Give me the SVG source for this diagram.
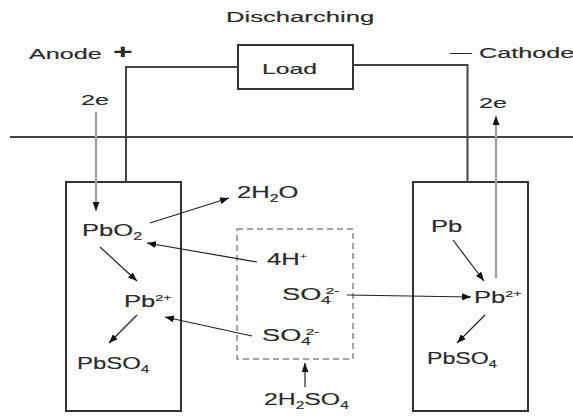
<svg xmlns="http://www.w3.org/2000/svg" width="573" height="416" viewBox="0 0 573 416">
<style>
text{font-family:"Liberation Sans",Arial,sans-serif;fill:#2a2a2a;stroke:#2a2a2a;stroke-width:0.15}
.h{font-size:15px}
.c{font-size:16px}
.s{font-size:10px}
.box{fill:none;stroke:#333;stroke-width:2}
.wire{fill:none;stroke:#444;stroke-width:2}
.e{fill:none;stroke:#a0a0a0;stroke-width:2.2}
.r{fill:none;stroke:#222;stroke-width:1.2}
.dash{fill:none;stroke:#888;stroke-width:1.5;stroke-dasharray:6 4}
</style>
<defs>
<marker id="ah" markerUnits="userSpaceOnUse" markerWidth="9" markerHeight="7" refX="9" refY="3.5" orient="auto">
<path d="M0,0 L9,3.5 L0,7 z" fill="#111"/>
</marker>
</defs>
<rect width="573" height="416" fill="#fff"/>

<g id="title"><text class="h" transform="matrix(1.71 0 0 1 226 22)">Discharching</text></g>
<g id="anode-label">
<text class="h" transform="matrix(1.68 0 0 1 29 59)">Anode</text>
<text transform="matrix(1.68 0 0 1 113 59)" font-size="20" font-weight="bold">+</text>
</g>
<g id="cathode-label">
<text class="h" transform="matrix(1.45 0 0 1 450 57)">—</text>
<text class="h" transform="matrix(1.68 0 0 1 479 58)">Cathode</text>
</g>

<g id="load"><rect class="box" x="238" y="45" width="115" height="44"/><text class="h" transform="matrix(1.65 0 0 1 262 74)">Load</text></g>

<g id="ground"><line x1="10" y1="137" x2="573" y2="137" stroke="#444" stroke-width="2"/></g>

<g id="left-cell"><rect class="box" x="66" y="182" width="115" height="229"/></g>
<g id="right-cell"><rect class="box" x="413" y="182" width="115" height="229"/></g>
<g id="electrolyte"><rect class="dash" x="237" y="229" width="116" height="130"/></g>

<g id="connectors">
<polyline class="wire" points="238,67 126,67 126,182"/>
<polyline class="wire" points="353,65 467.5,65 467.5,182"/>
<line class="e" x1="96" y1="112" x2="96" y2="211" marker-end="url(#ah)"/>
<line class="e" x1="496" y1="278" x2="496" y2="116" marker-end="url(#ah)"/>
<line class="r" x1="150" y1="223" x2="229" y2="198" marker-end="url(#ah)"/>
<line class="r" x1="257" y1="262" x2="147" y2="243" marker-end="url(#ah)"/>
<line class="r" x1="100" y1="247" x2="137" y2="281" marker-end="url(#ah)"/>
<line class="r" x1="137" y1="315" x2="109" y2="343" marker-end="url(#ah)"/>
<line class="r" x1="252" y1="336" x2="165" y2="317" marker-end="url(#ah)"/>
<line class="r" x1="347" y1="295" x2="471" y2="297" marker-end="url(#ah)"/>
<line class="r" x1="453" y1="240" x2="484" y2="281" marker-end="url(#ah)"/>
<line class="r" x1="485" y1="315" x2="457" y2="343" marker-end="url(#ah)"/>
<line class="r" x1="305" y1="387" x2="305" y2="363" marker-end="url(#ah)"/>
</g>

<g id="e-left"><text class="h" transform="matrix(1.68 0 0 1 81 105)">2e</text></g>
<g id="e-right"><text class="h" transform="matrix(1.68 0 0 1 479 108)">2e</text></g>

<g id="pbo2"><text class="c" transform="matrix(1.6 0 0 1 82 236)">PbO<tspan class="s" dy="4">2</tspan></text></g>
<g id="h2o"><text class="c" transform="matrix(1.6 0 0 1 237 198)">2H<tspan class="s" dy="4">2</tspan><tspan dy="-4">O</tspan></text></g>
<g id="hplus"><text class="c" transform="matrix(1.6 0 0 1 267 265)">4H<tspan font-size="8" dy="-6">+</tspan></text></g>
<g id="pb2-left"><text class="c" transform="matrix(1.6 0 0 1 124 307)">Pb<tspan font-size="9" dy="-6">2+</tspan></text></g>
<g id="pbso4-left"><text class="c" transform="matrix(1.5 0 0 1 77 369)">PbSO<tspan class="s" dy="4">4</tspan></text></g>
<g id="so4-center"><text class="c" transform="matrix(1.7 0 0 1 282 300)">SO<tspan class="s" dy="4">4</tspan><tspan font-size="9" dx="-3" dy="-10">2-</tspan></text></g>
<g id="so4-lower"><text class="c" transform="matrix(1.7 0 0 1 262 341)">SO<tspan class="s" dy="4">4</tspan><tspan font-size="9" dx="-3" dy="-10">2-</tspan></text></g>
<g id="h2so4"><text class="c" transform="matrix(1.55 0 0 1 264 405)">2H<tspan class="s" dy="4">2</tspan><tspan dy="-4">SO</tspan><tspan class="s" dy="4">4</tspan></text></g>
<g id="pb-right"><text class="c" transform="matrix(1.6 0 0 1 431 232)">Pb</text></g>
<g id="pb2-right"><text class="c" transform="matrix(1.6 0 0 1 474 303)">Pb<tspan font-size="9" dy="-6">2+</tspan></text></g>
<g id="pbso4-right"><text class="c" transform="matrix(1.45 0 0 1 427 364)">PbSO<tspan class="s" dy="4">4</tspan></text></g>
</svg>
